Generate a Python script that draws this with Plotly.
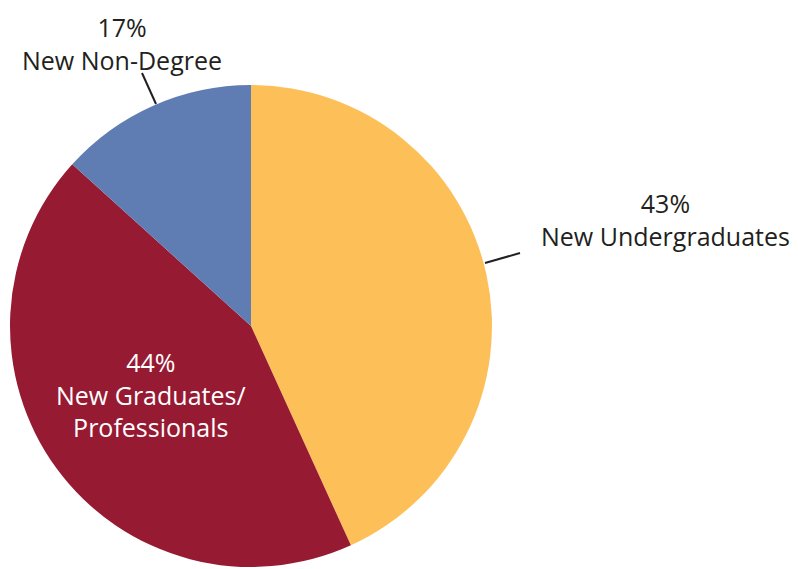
import plotly.graph_objects as go

# slice sizes as drawn in the picture; printed labels differ slightly
categories = ["New Undergraduates", "New Graduates/Professionals", "New Non-Degree"]
slice_sizes = [43.2, 43.5, 13.3]
printed_pct = ["43%", "44%", "17%"]
colours = ["#FDBF57", "#961A32", "#5F7DB3"]

W, H = 798, 569
OFF = 8  # page body margin
FONT = "Open Sans"
INK = "#231F20"


def px(x, y):
    # screenshot pixel -> paper coords
    return (x - OFF) / W, 1 - (y - OFF) / H


cx, cy, r = 251, 326, 241
fig = go.Figure(go.Pie(
    labels=categories,
    values=slice_sizes,
    marker=dict(colors=colours, line=dict(width=0)),
    sort=False,
    direction="clockwise",
    rotation=0,
    textinfo="none",
    hoverinfo="label+percent",
    showlegend=False,
    domain=dict(x=[(cx - r - OFF) / W, (cx + r - OFF) / W],
                y=[1 - (cy + r - OFF) / H, 1 - (cy - r - OFF) / H]),
))


def label(text, x, y, colour, yanchor="middle"):
    ax, ay = px(x, y)
    fig.add_annotation(x=ax, y=ay, xref="paper", yref="paper",
                       xanchor="center", yanchor=yanchor,
                       text=text, showarrow=False,
                       font=dict(size=25, color=colour, family=FONT))


label(f"{printed_pct[0]}<br>New Undergraduates", 665, 219, INK)
label(f"{printed_pct[1]}<br>New Graduates/<br>Professionals", 151, 394, "white")
label(f"{printed_pct[2]}<br>New Non-Degree", 122, 8, INK, yanchor="top")

# leader lines
for (x0, y0, x1, y1) in [(156, 104, 142, 73), (485, 263, 520, 253)]:
    a0, b0 = px(x0, y0)
    a1, b1 = px(x1, y1)
    fig.add_shape(type="line", xref="paper", yref="paper",
                  x0=a0, y0=b0, x1=a1, y1=b1,
                  line=dict(color=INK, width=2))

fig.update_layout(
    width=W, height=H,
    margin=dict(l=0, r=0, t=0, b=0),
    paper_bgcolor="white",
    plot_bgcolor="white",
)

fig.write_html("out.html")
